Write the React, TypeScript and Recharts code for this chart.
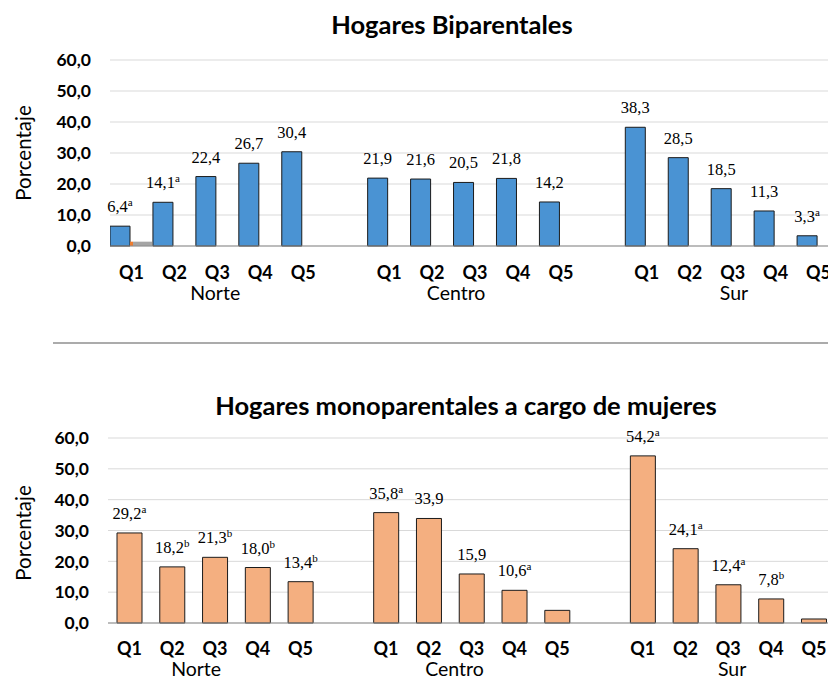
import React from "react";
import { BarChart, Bar, XAxis, YAxis, CartesianGrid, LabelList } from "recharts";

const regions = ["Norte", "Centro", "Sur"];
const quintiles = ["Q1", "Q2", "Q3", "Q4", "Q5"];
const yTicks = [0, 10, 20, 30, 40, 50, 60];

// Hogares biparentales (blue) + two near-empty leftover series
const biparentales = [6.4, 14.1, 22.4, 26.7, 30.4, 21.9, 21.6, 20.5, 21.8, 14.2, 38.3, 28.5, 18.5, 11.3, 3.3];
const biparentalesSup = ["a", "a", "", "", "", "", "", "", "", "", "", "", "", "", "a"];
const serie2 = [1.4, 0, 0, 0, 0, 0, 0, 0, 0, 0, 0, 0, 0, 0, 0];
const serie3 = [1.4, 0, 0, 0, 0, 0, 0, 0, 0, 0, 0, 0, 0, 0, 0];

// Hogares monoparentales a cargo de mujeres (orange); null = no label
const monoparentales = [29.2, 18.2, 21.3, 18.0, 13.4, 35.8, 33.9, 15.9, 10.6, 4.1, 54.2, 24.1, 12.4, 7.8, 1.3];
const monoparentalesSup = ["a", "b", "b", "b", "b", "a", "", "", "a", null, "a", "a", "a", "b", null];

const rows = regions.flatMap((region, g) =>
  quintiles.map((q, i) => {
    const k = g * 5 + i;
    return {
      pos: g * 6 + i + 1, // one empty slot between regions
      q,
      region,
      bi: biparentales[k],
      s2: serie2[k],
      s3: serie3[k],
      mono: monoparentales[k],
    };
  })
);
const qTicks = rows.map((r) => r.pos);

const SANS = "Lato, 'Open Sans', sans-serif";
const SERIF = "'Liberation Serif', 'Times New Roman', serif";

const fmt = (v: number) => v.toFixed(1).replace(".", ",");

const qTick = (dy: number) => (props: any) => {
  const { x, y, payload } = props;
  const row = rows.find((r) => r.pos === payload.value);
  return (
    <text x={x} y={y + dy} textAnchor="middle" fontFamily={SANS} fontWeight={700} fontSize={18} fill="#000">
      {row ? row.q : ""}
    </text>
  );
};

const groupTick = (dy: number) => (props: any) => {
  const { x, y, index } = props;
  return (
    <text x={x} y={y + dy} textAnchor="middle" fontFamily={SANS} fontSize={19.5} fill="#000">
      {regions[index]}
    </text>
  );
};

const valueLabel = (sups: (string | null)[]) => (props: any) => {
  const { x, y, width, value, index } = props;
  const sup = sups[index];
  if (sup === null || sup === undefined) return null;
  return (
    <text x={Number(x) + Number(width) / 2} y={Number(y) - 14} textAnchor="middle" fontFamily={SERIF} fontSize={16.5} fill="#000">
      {fmt(Number(value))}
      {sup ? (
        <tspan dy={-6} fontSize={11}>
          {sup}
        </tspan>
      ) : null}
    </text>
  );
};

const yTickStyle = { fontFamily: SANS, fontWeight: 700, fontSize: 17.5, fill: "#000" };

export default function App() {
  return (
    <div style={{ position: "absolute", left: 0, top: 0, width: 828, height: 680, overflow: "hidden", background: "#fff" }}>
      <div style={{ position: "absolute", left: 0, top: 0 }}>
        <BarChart width={828} height={340} data={rows} margin={{ top: 60, right: 0, left: 0, bottom: 34 }} barGap={0}>
          <CartesianGrid vertical={false} stroke="#d9d9d9" />
          <XAxis
            type="number"
            dataKey="pos"
            domain={[0.5, 17.22]}
            allowDataOverflow
            ticks={qTicks}
            interval={0}
            tickSize={0}
            tickMargin={0}
            tickLine={false}
            stroke="#8c8c8c"
            height={30}
            tick={qTick(33)}
          />
          <XAxis
            xAxisId="g"
            type="number"
            dataKey="pos"
            domain={[0.5, 17.22]}
            allowDataOverflow
            ticks={[2.95, 8.56, 15.03]}
            interval={0}
            tickSize={0}
            tickMargin={0}
            tickLine={false}
            axisLine={false}
            height={30}
            tick={groupTick(24)}
          />
          <YAxis
            type="number"
            domain={[0, 60]}
            ticks={yTicks}
            width={110}
            axisLine={false}
            tickLine={false}
            tickSize={0}
            tickMargin={19}
            tickFormatter={fmt}
            tick={yTickStyle}
          />
          <Bar dataKey="bi" barSize={20} fill="#4a93d3" stroke="#1b1b1b" strokeWidth={1} isAnimationActive={false}>
            <LabelList dataKey="bi" content={valueLabel(biparentalesSup)} />
          </Bar>
          <Bar dataKey="s2" barSize={3} fill="#ed7d31" isAnimationActive={false} />
          <Bar dataKey="s3" barSize={19} fill="#a5a5a5" isAnimationActive={false} />
        </BarChart>
      </div>

      <div style={{ position: "absolute", left: 0, top: 380 }}>
        <BarChart width={828} height={300} data={rows} margin={{ top: 58, right: 0, left: 0, bottom: 2 }}>
          <CartesianGrid vertical={false} stroke="#d9d9d9" />
          <XAxis
            type="number"
            dataKey="pos"
            domain={[0.5, 17.33]}
            allowDataOverflow
            ticks={qTicks}
            interval={0}
            tickSize={0}
            tickMargin={0}
            tickLine={false}
            stroke="#8c8c8c"
            height={30}
            tick={qTick(32)}
          />
          <XAxis
            xAxisId="g"
            type="number"
            dataKey="pos"
            domain={[0.5, 17.33]}
            allowDataOverflow
            ticks={[2.56, 8.6, 15.09]}
            interval={0}
            tickSize={0}
            tickMargin={0}
            tickLine={false}
            axisLine={false}
            height={25}
            tick={groupTick(23)}
          />
          <YAxis
            type="number"
            domain={[0, 60]}
            ticks={yTicks}
            width={108}
            axisLine={false}
            tickLine={false}
            tickSize={0}
            tickMargin={19}
            tickFormatter={fmt}
            tick={yTickStyle}
          />
          <Bar dataKey="mono" barSize={25} fill="#f4af80" stroke="#1b1b1b" strokeWidth={1} isAnimationActive={false}>
            <LabelList dataKey="mono" content={valueLabel(monoparentalesSup)} />
          </Bar>
        </BarChart>
      </div>

      <svg style={{ position: "absolute", left: 0, top: 0, pointerEvents: "none" }} width={828} height={680}>
        <text x={452} y={34} textAnchor="middle" fontFamily={SANS} fontWeight={700} fontSize={25.5} fill="#000">
          Hogares Biparentales
        </text>
        <text x={466} y={415} textAnchor="middle" fontFamily={SANS} fontWeight={700} fontSize={25.5} fill="#000">
          Hogares monoparentales a cargo de mujeres
        </text>
        <text x={31} y={153} textAnchor="middle" transform="rotate(-90 31 153)" fontFamily={SANS} fontSize={20.5} fill="#000">
          Porcentaje
        </text>
        <text x={31} y={533} textAnchor="middle" transform="rotate(-90 31 533)" fontFamily={SANS} fontSize={20.5} fill="#000">
          Porcentaje
        </text>
        <line x1={53} y1={343} x2={828} y2={343} stroke="#8f8f8f" strokeWidth={1.5} />
      </svg>
    </div>
  );
}
